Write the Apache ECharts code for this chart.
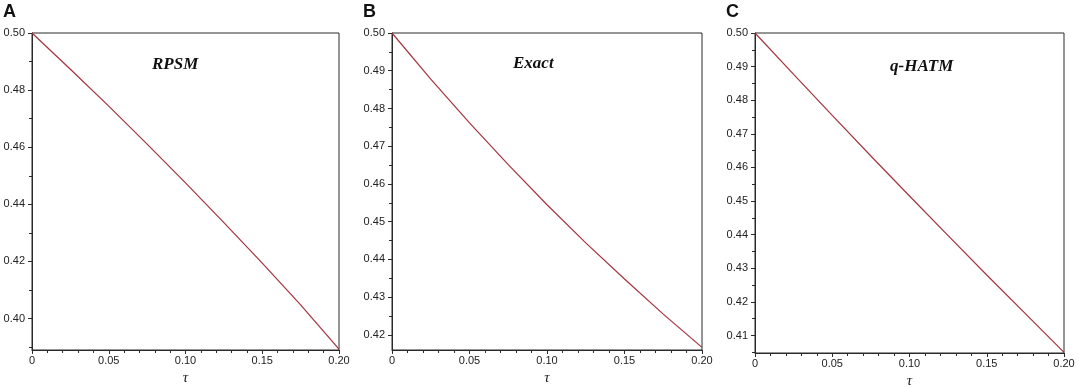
<!DOCTYPE html>
<html>
<head>
<meta charset="utf-8">
<script src="https://cdn.jsdelivr.net/npm/echarts@6/dist/echarts.min.js"></script>
<style>html,body{margin:0;padding:0;background:#fff;}#c{width:1079px;height:387px;}</style>
</head>
<body>
<div id="c"></div>
<script>
// ---- data ----
const tau   = [0, 0.025, 0.05, 0.075, 0.1, 0.125, 0.15, 0.175, 0.2];
const rpsm  = [0.5000, 0.4873, 0.4744, 0.4611, 0.4475, 0.4336, 0.4194, 0.4048, 0.3893];
const exact = [0.5000, 0.4878, 0.4762, 0.4651, 0.4545, 0.4444, 0.4348, 0.4255, 0.4167];
const qhatm = [0.5000, 0.4877, 0.4755, 0.4634, 0.4515, 0.4397, 0.4280, 0.4165, 0.4050];

const panelLetters = ['A', 'B', 'C'];
const panelTitles  = ['RPSM', 'Exact', 'q-HATM'];
const xName = 'τ';

const xTicks      = [0, 0.05, 0.1, 0.15, 0.2];
const xTickLabels = ['0', '0.05', '0.10', '0.15', '0.20'];

const yTicksA = [0.40, 0.42, 0.44, 0.46, 0.48, 0.50];
const yMinorA = [0.39, 0.41, 0.43, 0.45, 0.47, 0.49];
const yTicksB = [0.42, 0.43, 0.44, 0.45, 0.46, 0.47, 0.48, 0.49, 0.50];
const yMinorB = [0.425, 0.435, 0.445, 0.455, 0.465, 0.475, 0.485, 0.495];
const yTicksC = [0.41, 0.42, 0.43, 0.44, 0.45, 0.46, 0.47, 0.48, 0.49, 0.50];
const yMinorC = [0.405, 0.415, 0.425, 0.435, 0.445, 0.455, 0.465, 0.475, 0.485, 0.495];
const yLabelsA = ['0.40', '0.42', '0.44', '0.46', '0.48', '0.50'];
const yLabelsB = ['0.42', '0.43', '0.44', '0.45', '0.46', '0.47', '0.48', '0.49', '0.50'];
const yLabelsC = ['0.41', '0.42', '0.43', '0.44', '0.45', '0.46', '0.47', '0.48', '0.49', '0.50'];
const yMins = [0.389, 0.416, 0.4048];
const yMax = 0.5;

// ---- layout ----
const panels = [
  {grid: {left: 32, top: 33, width: 307, height: 317}, letterX: 3, titleX: 152, titleY: 56,
   values: rpsm, ticks: yTicksA, minor: yMinorA, labels: yLabelsA},
  {grid: {left: 392, top: 33, width: 310, height: 317}, letterX: 363, titleX: 513, titleY: 55,
   values: exact, ticks: yTicksB, minor: yMinorB, labels: yLabelsB},
  {grid: {left: 755, top: 33, width: 309, height: 320}, letterX: 726, titleX: 890, titleY: 58,
   values: qhatm, ticks: yTicksC, minor: yMinorC, labels: yLabelsC}
];

const axisColor = '#2a2a2a';
const labelStyle = {fontSize: 11, color: '#222', fontFamily: 'Liberation Sans'};

const option = {
  animation: false,
  backgroundColor: '#fff',
  title: [],
  grid: [],
  xAxis: [],
  yAxis: [],
  series: []
};

panels.forEach((p, i) => {
  option.grid.push(Object.assign({show: true, borderColor: axisColor, borderWidth: 1,
    containLabel: false, outerBoundsMode: 'none'}, p.grid));
  option.title.push({
    text: panelLetters[i], left: p.letterX, top: 3, padding: 0,
    textStyle: {fontSize: 18, fontWeight: 'bold', fontFamily: 'Liberation Sans', color: '#111'}
  });
  option.title.push({
    text: panelTitles[i], left: p.titleX, top: p.titleY, padding: 0,
    textStyle: {fontSize: 17, fontWeight: 'bold', fontStyle: 'italic', fontFamily: 'Liberation Serif', color: '#111'}
  });
  option.xAxis.push({
    type: 'value', gridIndex: i, min: 0, max: 0.2, interval: 0.05,
    axisLine: {show: true, lineStyle: {color: axisColor, width: 1}},
    axisTick: {show: true, length: 4, lineStyle: {color: axisColor}},
    minorTick: {show: true, splitNumber: 5, length: 3, lineStyle: {color: axisColor}},
    splitLine: {show: false},
    axisLabel: Object.assign({margin: 5, formatter: v => {
      const k = xTicks.findIndex(t => Math.abs(t - v) < 1e-9);
      return k >= 0 ? xTickLabels[k] : '';
    }}, labelStyle),
    name: xName, nameLocation: 'middle', nameGap: 20,
    nameTextStyle: {fontSize: 15, fontStyle: 'italic', fontFamily: 'Liberation Serif', color: '#222'}
  });
  const yMin = yMins[i];
  option.yAxis.push({
    type: 'value', gridIndex: i, min: yMin, max: yMax,
    axisLine: {show: true, lineStyle: {color: axisColor, width: 1}},
    axisTick: {show: true, length: 4, customValues: p.ticks, lineStyle: {color: axisColor}},
    splitLine: {show: false},
    axisLabel: Object.assign({margin: 7, customValues: p.ticks, formatter: v => {
      const k = p.ticks.findIndex(t => Math.abs(t - v) < 1e-9);
      return k >= 0 ? p.labels[k] : '';
    }}, labelStyle)
  });
  option.yAxis.push({
    type: 'value', gridIndex: i, min: yMin, max: yMax, position: 'left',
    axisLine: {show: false},
    axisTick: {show: true, length: 3, customValues: p.minor, lineStyle: {color: axisColor}},
    axisLabel: {show: false},
    splitLine: {show: false}
  });
  option.series.push({
    type: 'line', xAxisIndex: i, yAxisIndex: i * 2, showSymbol: false, symbol: 'none',
    data: tau.map((t, j) => [t, p.values[j]]),
    lineStyle: {color: '#a3343e', width: 1.2},
    clip: false
  });
});

const chart = echarts.init(document.getElementById('c'), null, {renderer: 'canvas'});
chart.setOption(option);
</script>
</body>
</html>
